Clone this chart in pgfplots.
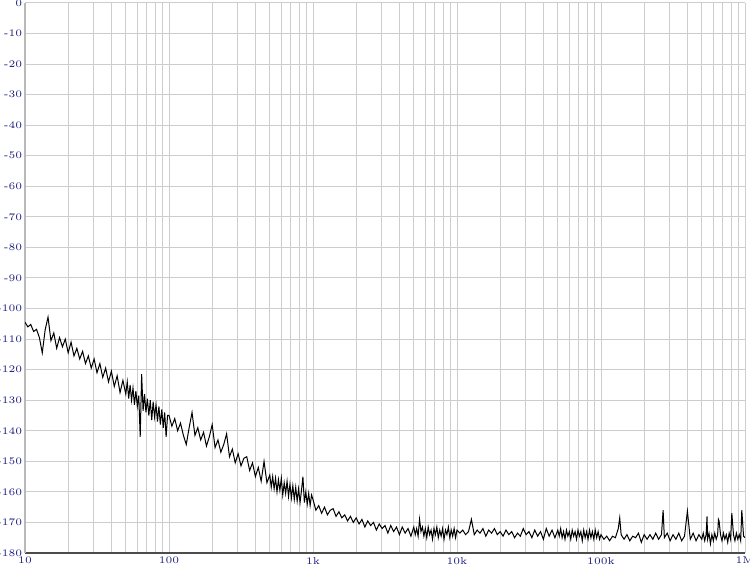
\documentclass[border=0pt]{standalone}
\usepackage{pgfplots}
\pgfplotsset{compat=1.18}
\definecolor{lbl}{RGB}{30,30,130}
\definecolor{gridc}{RGB}{205,205,205}
\begin{document}
\begin{tikzpicture}
\useasboundingbox (0,0) rectangle (375pt,283.5pt);
\begin{axis}[
  at={(12.5pt,7pt)}, anchor=south west,
  scale only axis, width=360pt, height=275pt,
  xmode=log, xmin=10, xmax=1000000, ymin=-180, ymax=0,
  axis x line=bottom, axis y line=left,
  x axis line style={draw=black!70, line width=1pt, -},
  y axis line style={draw=gray!55, line width=0.6pt, -},
  xtick={10,100,1000,10000,100000,1000000},
  xticklabels={10,100,1k,10k,100k,1M},
  ytick={-180,-170,-160,-150,-140,-130,-120,-110,-100,-90,-80,-70,-60,-50,-40,-30,-20,-10,0},
  yticklabels={-180,-170,-160,-150,-140,-130,-120,-110,-100,-90,-80,-70,-60,-50,-40,-30,-20,-10,0},
  minor xtick={20,30,40,50,60,70,80,90,200,300,400,500,600,700,800,900,2000,3000,4000,5000,6000,7000,8000,9000,20000,30000,40000,50000,60000,70000,80000,90000,200000,300000,400000,500000,600000,700000,800000,900000},
  major tick length=0pt, minor tick length=0pt,
  xmajorgrids, xminorgrids, ymajorgrids,
  grid style={draw=gridc, line width=0.5pt},
  minor grid style={draw=gridc, line width=0.5pt},
  tick label style={font=\fontsize{5}{6}\selectfont, text=lbl},
  xticklabel style={yshift=1.5pt},
  yticklabel style={inner sep=0pt, xshift=-1.2pt},
  clip=true,
]
\addplot[black, line width=0.5pt] coordinates {
(10.00,-104.5) (10.47,-106.0) (10.96,-105.2) (11.48,-107.5) (12.02,-106.8) (12.59,-109.5) (13.18,-114.5) (13.80,-107.0) (14.45,-102.8) (15.14,-110.5)
(15.85,-108.0) (16.60,-113.0) (17.38,-109.5) (18.20,-112.5) (19.05,-110.0) (19.95,-114.5) (20.89,-111.0) (21.88,-115.5) (22.91,-113.0) (23.99,-116.5)
(25.12,-114.0) (26.30,-118.0) (27.54,-115.5) (28.84,-119.5) (30.20,-116.5) (31.62,-121.0) (33.11,-118.0) (34.67,-122.5) (36.31,-119.5) (38.02,-124.0)
(39.81,-120.5) (41.69,-125.5) (43.65,-122.0) (45.71,-127.5) (47.86,-123.5) (50.12,-128.0) (51.29,-124.0) (52.48,-129.5) (53.70,-125.0) (54.95,-130.0)
(56.23,-126.0) (57.54,-131.5) (58.88,-127.0) (60.26,-132.0) (61.66,-128.5) (63.10,-142.0) (64.57,-121.5) (66.07,-133.5) (67.61,-128.0) (69.18,-134.0)
(70.79,-129.5) (72.44,-135.0) (74.13,-130.0) (75.86,-136.5) (77.62,-130.5) (79.43,-135.5) (81.28,-131.5) (83.18,-137.0) (85.11,-132.0) (87.10,-138.0)
(89.13,-133.0) (91.20,-139.0) (93.33,-134.0) (95.50,-142.0) (97.72,-135.0)
(100.0,-135.0) (104.7,-138.5) (109.6,-136.0) (114.8,-140.0) (120.2,-137.5) (125.9,-141.5) (131.8,-144.5) (138.0,-139.0) (144.5,-134.0) (151.4,-141.5)
(158.5,-139.0) (166.0,-143.0) (173.8,-140.5) (182.0,-145.0) (190.5,-142.0) (199.5,-138.0) (208.9,-145.5) (218.8,-143.0) (229.1,-147.0) (239.9,-144.5)
(251.2,-141.0) (263.0,-148.5) (275.4,-146.0) (288.4,-150.5) (302.0,-147.5) (316.2,-151.5) (331.1,-149.0) (346.7,-148.5) (363.1,-153.0) (380.2,-150.5)
(398.1,-155.0) (416.9,-152.0) (436.5,-156.5) (457.1,-150.0) (478.6,-157.0) (501.2,-154.5) (512.9,-158.5) (524.8,-155.0) (537.0,-159.0) (549.5,-155.5)
(562.3,-160.0) (575.4,-156.0) (588.8,-159.5) (602.6,-155.5) (616.6,-161.0) (631.0,-157.0) (645.7,-160.5) (660.7,-156.5) (676.1,-161.5) (691.8,-157.5)
(707.9,-162.0) (724.4,-158.0) (741.3,-162.5) (758.6,-158.5) (776.2,-163.0) (794.3,-159.0) (812.8,-163.5) (831.8,-159.5) (851.1,-155.0) (871.0,-163.5)
(891.3,-160.0) (912.0,-164.0) (933.3,-160.5) (955.0,-164.5) (977.2,-161.0)
(1000,-162.5) (1047,-166.0) (1096,-164.5) (1148,-167.0) (1202,-165.0) (1259,-167.5) (1318,-166.0) (1380,-165.5) (1445,-168.0) (1514,-166.5)
(1585,-168.5) (1660,-167.5) (1738,-169.5) (1820,-168.0) (1905,-170.0) (1995,-168.5) (2089,-170.5) (2188,-169.0) (2291,-171.5) (2399,-169.5)
(2512,-171.0) (2630,-170.0) (2754,-172.5) (2884,-170.5) (3020,-172.0) (3162,-171.0) (3311,-173.5) (3467,-171.0) (3631,-173.0) (3802,-171.5)
(3981,-174.0) (4169,-171.5) (4365,-173.5) (4571,-172.0) (4786,-174.5) (5012,-171.5) (5129,-174.0) (5248,-172.0) (5370,-174.5) (5495,-169.0)
(5623,-173.0) (5754,-171.5) (5888,-174.5) (6026,-172.0) (6166,-175.0) (6310,-171.5) (6457,-174.0) (6607,-172.5) (6761,-175.5) (6918,-172.0)
(7079,-174.0) (7244,-171.5) (7413,-175.0) (7586,-172.5) (7762,-174.5) (7943,-172.0) (8128,-175.5) (8318,-172.5) (8511,-174.0) (8710,-171.5)
(8913,-175.0) (9120,-172.5) (9333,-174.5) (9550,-172.0) (9772,-175.0)
(10000,-172.5) (10470,-173.5) (10960,-172.5) (11480,-174.0) (12020,-173.0) (12590,-169.0) (13180,-174.0) (13800,-172.5) (14450,-173.5) (15140,-172.0)
(15850,-174.5) (16600,-172.5) (17380,-173.5) (18200,-172.0) (19050,-174.0) (19950,-173.0) (20890,-174.5) (21880,-172.5) (22910,-174.0) (23990,-173.0)
(25120,-175.0) (26300,-173.5) (27540,-174.5) (28840,-172.0) (30200,-174.0) (31620,-173.0) (33110,-175.0) (34670,-172.5) (36310,-174.5) (38020,-173.0)
(39810,-175.5) (41690,-172.0) (43650,-174.5) (45710,-172.5) (47860,-175.0) (50120,-172.5) (51290,-174.5) (52480,-172.0) (53700,-175.0) (54950,-173.0)
(56230,-175.5) (57540,-172.5) (58880,-174.5) (60260,-173.0) (61660,-175.5) (63100,-172.5) (64570,-174.5) (66070,-173.0) (67610,-175.5) (69180,-172.5)
(70790,-174.5) (72440,-173.0) (74130,-176.0) (75860,-172.5) (77620,-175.0) (79430,-173.0) (81280,-175.5) (83180,-172.5) (85110,-175.0) (87100,-173.0)
(89130,-175.5) (91200,-172.5) (93330,-175.0) (95500,-173.0) (97720,-175.5)
(100000,-174.0) (104700,-175.5) (109600,-174.5) (114800,-176.0) (120200,-174.5) (125900,-175.0) (131800,-172.0) (134900,-168.5) (138000,-174.0) (144500,-175.5)
(151400,-174.0) (158500,-176.0) (166000,-174.5) (173800,-175.0) (182000,-173.5) (190500,-176.5) (199500,-174.0) (208900,-175.5) (218800,-174.0) (229100,-175.5)
(239900,-173.5) (251200,-175.5) (263000,-174.0) (270000,-166.0) (275400,-175.0) (288400,-173.5) (302000,-176.0) (316200,-174.0) (331100,-175.5) (346700,-173.5)
(363100,-176.0) (380200,-174.5) (398100,-166.3) (416900,-175.5) (436500,-173.5) (457100,-176.0) (478600,-174.0) (501200,-175.5) (512900,-173.5) (524800,-176.0)
(537000,-174.0) (545000,-168.0) (549500,-175.5) (562300,-173.5) (575400,-177.0) (588800,-174.0) (602600,-176.0) (616600,-173.5) (631000,-175.5) (645700,-174.0)
(654000,-169.0) (660700,-169.5) (676100,-174.0) (691800,-176.0) (707900,-173.5) (724400,-175.5) (741300,-174.0) (758600,-176.5) (776200,-173.5) (794300,-175.5)
(810000,-167.0) (831800,-174.0) (851100,-176.0) (871000,-173.5) (891300,-175.5) (912000,-174.0) (933300,-176.0) (950000,-166.0) (977200,-174.5) (1000000,-175.0)
};
\end{axis}
\end{tikzpicture}
\end{document}
